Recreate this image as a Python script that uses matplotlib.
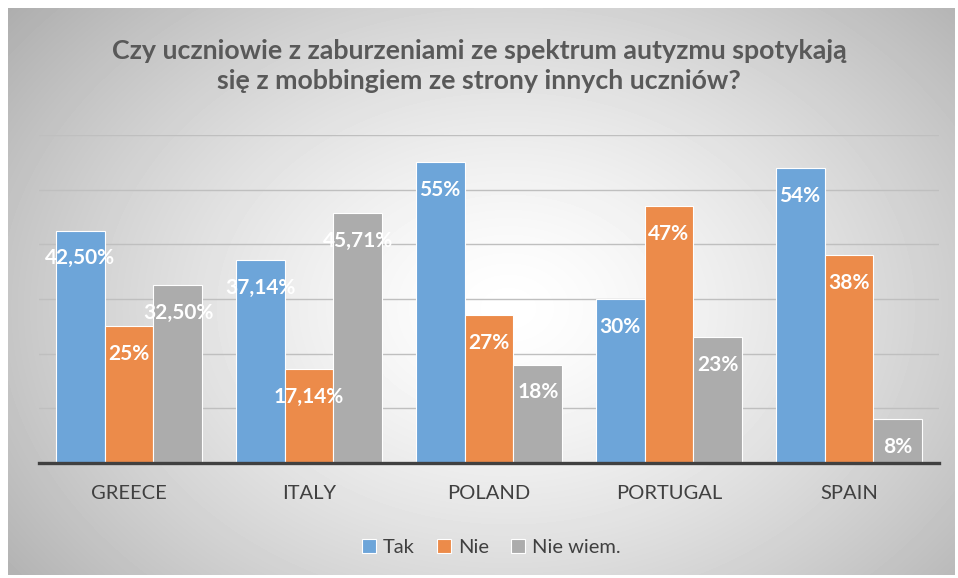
import numpy as np
import matplotlib.pyplot as plt

countries = ['GREECE', 'ITALY', 'POLAND', 'PORTUGAL', 'SPAIN']
series_names = ['Tak', 'Nie', 'Nie wiem.']
tak = [42.50, 37.14, 55, 30, 54]
nie = [25, 17.14, 27, 47, 38]
nie_wiem = [32.50, 45.71, 18, 23, 8]
tak_labels = ['42,50%', '37,14%', '55%', '30%', '54%']
nie_labels = ['25%', '17,14%', '27%', '47%', '38%']
nie_wiem_labels = ['32,50%', '45,71%', '18%', '23%', '8%']

colors = ['#6DA5D9', '#EC8B4A', '#ACACAC']
text_col = '#404040'

plt.rcParams['font.family'] = ['Lato', 'DejaVu Sans']

fig = plt.figure(figsize=(9.58, 5.78), dpi=100)

# radial gradient background like the Excel chart area
bg = fig.add_axes([8/958, 3/578, 947/958, 567/578])
yy, xx = np.mgrid[0:567, 0:947]
r = np.sqrt(((xx - 500) / 540.0) ** 2 + ((yy - 300) / 400.0) ** 2)
shade = 1 - 0.25 * np.clip(r, 0, 1.2) ** 1.4
bg.imshow(shade, cmap='gray', vmin=0, vmax=1, aspect='auto', interpolation='bilinear')
bg.set_axis_off()

ax = fig.add_axes([39/958, 115/578, 900/958, 328/578])
ax.patch.set_alpha(0)
x = np.arange(len(countries))
w = 0.272
all_vals = [tak, nie, nie_wiem]
all_labels = [tak_labels, nie_labels, nie_wiem_labels]
for k, (vals, labs) in enumerate(zip(all_vals, all_labels)):
    bars = ax.bar(x + (k - 1) * w, vals, w, color=colors[k], edgecolor='white',
                  linewidth=0.8, label=series_names[k], zorder=3)
    for b, lab in zip(bars, labs):
        ax.annotate(lab, (b.get_x() + b.get_width() / 2, b.get_height()),
                    xytext=(0, -20), textcoords='offset points',
                    ha='center', va='center', color='white',
                    fontsize=15, fontweight='bold', zorder=4)

ax.set_xlim(-0.5, 4.5)
ax.set_ylim(0, 60)
ax.set_yticks(np.arange(10, 61, 10))
ax.yaxis.grid(True, color='#BFBFBF', linewidth=1)
ax.tick_params(axis='y', left=False, labelleft=False)
ax.set_xticks(x)
ax.set_xticklabels(countries, fontsize=14.5, color=text_col)
ax.tick_params(axis='x', length=0, pad=16)
for s in ['top', 'right', 'left']:
    ax.spines[s].set_visible(False)
ax.spines['bottom'].set_color(text_col)
ax.spines['bottom'].set_linewidth(2.4)
ax.spines['bottom'].set_zorder(5)

fig.text(0.5, 0.886,
         'Czy uczniowie z zaburzeniami ze spektrum autyzmu spotykają\nsię z mobbingiem ze strony innych uczniów?',
         ha='center', va='center', fontsize=19.3, fontweight='bold',
         color='#595959', linespacing=1.3)

leg = fig.legend(loc='center', bbox_to_anchor=(0.513, 0.052), ncol=3, frameon=False,
                 fontsize=14.5, handlelength=0.7, handleheight=0.7,
                 handletextpad=0.35, columnspacing=1.1)
for t in leg.get_texts():
    t.set_color(text_col)

fig.savefig('out.png', dpi=100)
